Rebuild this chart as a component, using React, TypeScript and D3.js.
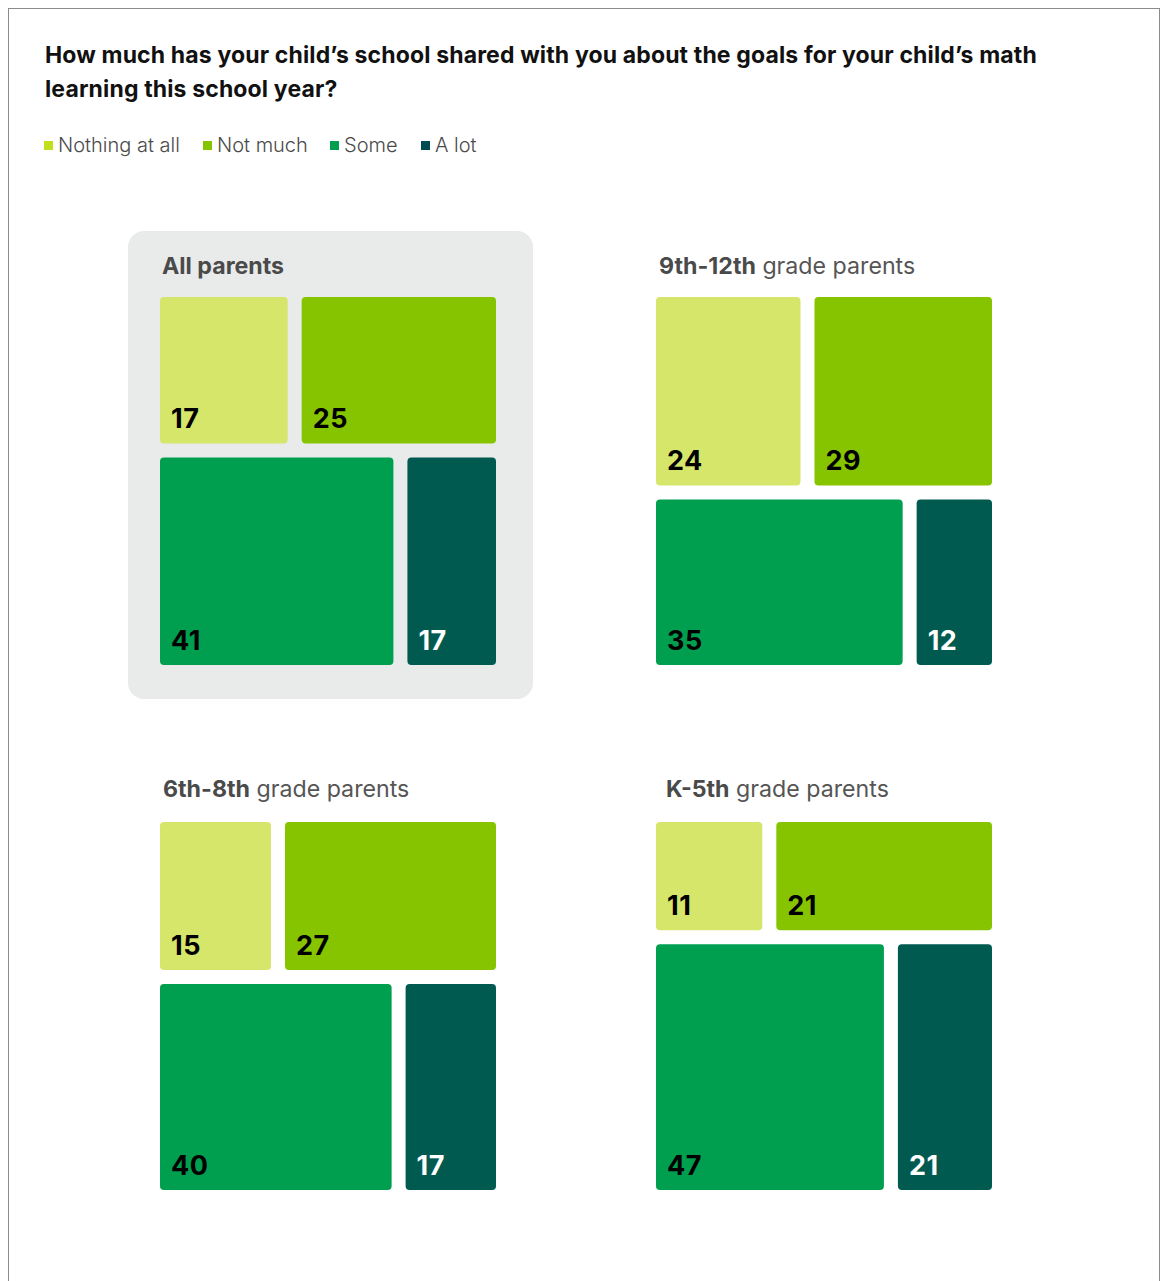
import React from "react";
import * as d3 from "d3";

// ---- data ----
const categories = ["Nothing at all", "Not much", "Some", "A lot"];
const categoryColors = ["#d5e66a", "#87c400", "#009e4f", "#005a50"];
const legendColors = ["#c2df1c", "#86c300", "#009e4f", "#004b50"];
const labelColors = ["#000000", "#000000", "#000000", "#ffffff"];

const panelBold = ["All parents", "9th-12th", "6th-8th", "K-5th"];
const panelRest = ["", " grade parents", " grade parents", " grade parents"];

const allParents = [17, 25, 41, 17];
const grade9to12 = [24, 29, 35, 12];
const grade6to8 = [15, 27, 40, 17];
const gradeK5 = [11, 21, 47, 21];
const panelValues = [allParents, grade9to12, grade6to8, gradeK5];

const titleLines = [
  "How much has your child\u2019s school shared with you about the goals for your child\u2019s math",
  "learning this school year?",
];

// ---- layout (positions, not data) ----
const panelLayout = [
  { x: 160, y: 297, titleX: 162, titleY: 274, highlight: true },
  { x: 656, y: 297, titleX: 659, titleY: 274, highlight: false },
  { x: 160, y: 822, titleX: 163, titleY: 797, highlight: false },
  { x: 656, y: 822, titleX: 666, titleY: 797, highlight: false },
];
const legendX = [44, 203, 330, 421];
const PW = 336;
const PH = 368;
const GAP = 14;
const FONT = "Inter, 'Noto Sans', sans-serif";

type Leaf = { name: string; idx: number; value: number };

function layoutPanel(values: number[]) {
  const data = {
    name: "root",
    children: [
      { name: "row1", children: [0, 1].map((i) => ({ name: categories[i], idx: i, value: values[i] })) },
      { name: "row2", children: [2, 3].map((i) => ({ name: categories[i], idx: i, value: values[i] })) },
    ],
  };
  const root = d3.hierarchy<any>(data).sum((d: any) => (d.children ? 0 : d.value));
  const tile = (node: any, x0: number, y0: number, x1: number, y1: number) => {
    if (node.depth === 0) d3.treemapSlice(node, x0, y0, x1, y1);
    else d3.treemapDice(node, x0, y0, x1, y1);
  };
  d3.treemap<any>().size([PW, PH]).paddingInner(GAP).tile(tile as any)(root);
  return root.leaves() as d3.HierarchyRectangularNode<Leaf>[];
}

function Panel({ i }: { i: number }) {
  const L = panelLayout[i];
  const leaves = layoutPanel(panelValues[i]);
  return (
    <g>
      {L.highlight && (
        <rect x={128} y={231} width={405} height={468} rx={16} fill="#e9ebea" />
      )}
      <text x={L.titleX} y={L.titleY} fontFamily={FONT} fontSize={23.2}>
        <tspan fontWeight={700} fill="#4a4a4a">{panelBold[i]}</tspan>
        <tspan fontWeight={400} fill="#555555">{panelRest[i]}</tspan>
      </text>
      <g transform={`translate(${L.x},${L.y})`}>
        {leaves.map((lf) => {
          const idx = (lf.data as any).idx as number;
          return (
            <g key={idx}>
              <rect
                x={lf.x0}
                y={lf.y0}
                width={lf.x1 - lf.x0}
                height={lf.y1 - lf.y0}
                rx={4}
                fill={categoryColors[idx]}
              />
              <text
                x={lf.x0 + 11}
                y={lf.y1 - 15}
                fontFamily={FONT}
                fontSize={27}
                fontWeight={700}
                letterSpacing={0.5}
                fill={labelColors[idx]}
              >
                {(lf.data as any).value}
              </text>
            </g>
          );
        })}
      </g>
    </g>
  );
}

export default function App() {
  return (
    <svg
      width={1162}
      height={1281}
      style={{ position: "absolute", left: 0, top: 0, background: "#ffffff" }}
    >
      <rect x={8.5} y={8.5} width={1151} height={1320} fill="#ffffff" stroke="#8c8c8c" strokeWidth={1} />
      {titleLines.map((t, k) => (
        <text
          key={k}
          x={45}
          y={63 + k * 34}
          fontFamily={FONT}
          fontSize={23}
          fontWeight={700}
          letterSpacing={0.14}
          fill="#111111"
        >
          {t}
        </text>
      ))}
      {categories.map((c, k) => (
        <g key={c}>
          <rect x={legendX[k]} y={141} width={9} height={9} fill={legendColors[k]} />
          <text x={legendX[k] + 14} y={152} fontFamily={FONT} fontSize={20} fontWeight={300} fill="#4a4a4a">
            {c}
          </text>
        </g>
      ))}
      {panelValues.map((_, i) => (
        <Panel key={i} i={i} />
      ))}
    </svg>
  );
}
